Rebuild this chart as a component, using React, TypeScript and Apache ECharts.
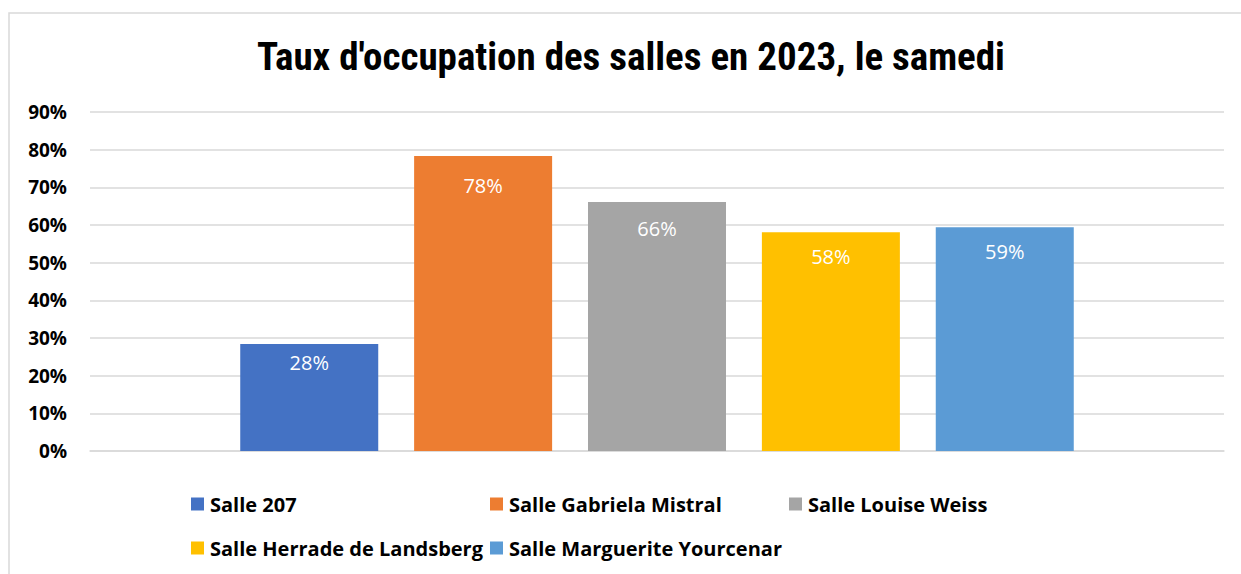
import React, { useEffect, useRef } from "react";
import * as echarts from "echarts";

const title = "Taux d'occupation des salles en 2023, le samedi";
const categories = [""];
const seriesNames = [
  "Salle 207",
  "Salle Gabriela Mistral",
  "Salle Louise Weiss",
  "Salle Herrade de Landsberg",
  "Salle Marguerite Yourcenar",
];
const seriesValues = [0.284, 0.783, 0.661, 0.581, 0.594];
const seriesColors = ["#4472C4", "#ED7D31", "#A5A5A5", "#FFC000", "#5B9BD5"];
const yTicks = { min: 0, max: 0.9, interval: 0.1 };

const labelDistances = [8, 19, 16, 14, 14];

const legendSlots = [
  { left: 191, top: 494 },
  { left: 490, top: 494 },
  { left: 789, top: 494 },
  { left: 191, top: 538 },
  { left: 490, top: 538 },
];

const labelFont = "'Open Sans', Lato, sans-serif";

export default function App() {
  const ref = useRef<HTMLDivElement>(null);
  useEffect(() => {
    if (!ref.current) return;
    const chart = echarts.init(ref.current, null, { renderer: "svg" });
    chart.setOption({
      animation: false,
      backgroundColor: "#ffffff",
      title: {
        text: title,
        left: 631,
        top: 37,
        textAlign: "center",
        padding: 0,
        textStyle: {
          fontFamily: "'Liberation Sans Narrow', 'Arial Narrow', 'Roboto Condensed', sans-serif",
          fontWeight: "bold",
          fontSize: 39,
          color: "#000000",
        },
      },
      graphic: [
        {
          type: "rect",
          shape: { x: 9, y: 13, width: 1400, height: 700 },
          style: { fill: "none", stroke: "#d9d9d9", lineWidth: 1.5 },
          silent: true,
        },
      ],
      legend: seriesNames.map((n, i) => ({
        data: [n],
        left: legendSlots[i].left,
        top: legendSlots[i].top,
        padding: 0,
        icon: "rect",
        itemWidth: 13,
        itemHeight: 13,
        itemGap: 6,
        selectedMode: false,
        textStyle: {
          fontFamily: labelFont,
          fontWeight: "bold",
          fontSize: 20,
          color: "#000000",
          padding: [0, 0, 0, 1],
        },
      })),
      grid: { left: 90, right: 17, top: 112, bottom: 123, containLabel: false },
      xAxis: {
        type: "category",
        data: categories,
        axisLine: { show: true, lineStyle: { color: "#d9d9d9", width: 1.5 } },
        axisTick: { show: false },
        axisLabel: { show: false },
      },
      yAxis: {
        type: "value",
        min: yTicks.min,
        max: yTicks.max,
        interval: yTicks.interval,
        axisLine: { show: false },
        axisTick: { show: false },
        splitLine: { lineStyle: { color: "#d9d9d9", width: 1.5 } },
        axisLabel: {
          margin: 23,
          fontFamily: labelFont,
          fontWeight: "bold",
          fontSize: 19,
          color: "#000000",
          formatter: (v: number) => Math.round(v * 100) + "%",
        },
      },
      series: seriesNames.map((n, i) => ({
        name: n,
        type: "bar",
        data: [seriesValues[i]],
        barWidth: 138,
        barGap: "26%",
        itemStyle: { color: seriesColors[i] },
        label: {
          show: true,
          position: "insideTop",
          distance: labelDistances[i],
          color: "#ffffff",
          fontFamily: "'Open Sans', Lato, sans-serif",
          fontSize: 20,
          formatter: (p: any) => Math.round(p.value * 100) + "%",
        },
      })),
    });
    return () => chart.dispose();
  }, []);
  return (
    <div
      ref={ref}
      style={{ position: "fixed", left: 0, top: 0, width: 1241, height: 574 }}
    />
  );
}
